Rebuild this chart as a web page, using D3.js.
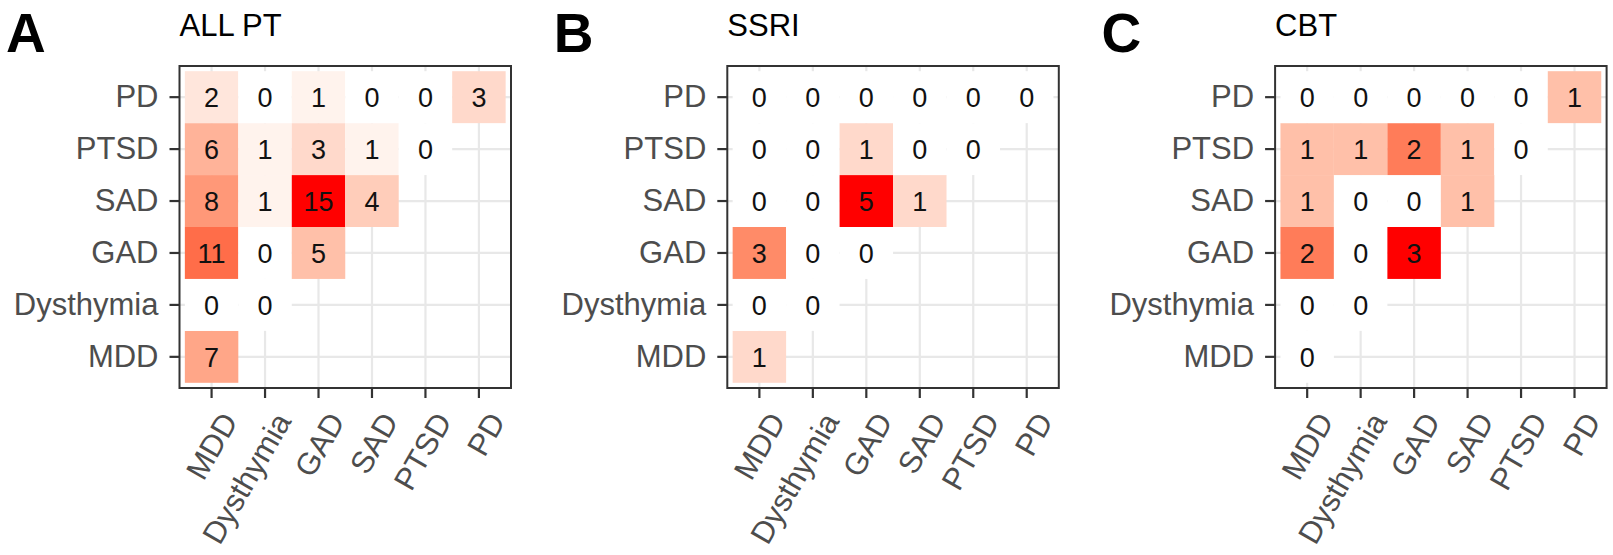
<!DOCTYPE html>
<html lang="en">
<head>
    <meta charset="utf-8">
    <script src="https://d3js.org/d3.v7.min.js"></script>
    <title>Comorbidity heatmaps</title>
    <style>
        body {
            margin: 0;
            padding: 0;
            background: #fff;
            font-family: "Liberation Sans", Arial, sans-serif;
        }
    </style>
</head>
<body>
    <svg id="chart" width="1613" height="555"></svg>
    <script>
        // Categories (same order on both axes, MDD at bottom / left)
        var categories = ["MDD", "Dysthymia", "GAD", "SAD", "PTSD", "PD"];

        // Counts, one row per y category (MDD first), columns MDD.. up to the diagonal
        var allPT = [[7], [0, 0], [11, 0, 5], [8, 1, 15, 4], [6, 1, 3, 1, 0], [2, 0, 1, 0, 0, 3]];
        var ssri = [[1], [0, 0], [3, 0, 0], [0, 0, 5, 1], [0, 0, 1, 0, 0], [0, 0, 0, 0, 0, 0]];
        var cbt = [[0], [0, 0], [2, 0, 3], [1, 0, 0, 1], [1, 1, 2, 1, 0], [0, 0, 0, 0, 0, 1]];

        var titles = ["ALL PT", "SSRI", "CBT"];
        var tags = ["A", "B", "C"];
        var panels = [allPT, ssri, cbt];

        var svg = d3.select("#chart");

        var panelW = 331.5,
            panelH = 322,
            plotTop = 66,
            step = 547.8,
            firstLeft = 179.5;

        panels.forEach(function (matrix, p) {
            var left = firstLeft + p * step;

            // flatten into cells
            var cells = [];
            matrix.forEach(function (row, i) {
                row.forEach(function (v, j) {
                    cells.push({ y: categories[i], x: categories[j], value: v });
                });
            });

            var x = d3.scaleBand()
                .domain(categories)
                .range([left, left + panelW])
                .paddingInner(0)
                .paddingOuter(0.1);

            var y = d3.scaleBand()
                .domain(categories.slice().reverse())
                .range([plotTop, plotTop + panelH])
                .paddingInner(0)
                .paddingOuter(0.1);

            var maxV = d3.max(cells, function (d) { return d.value; });
            var color = d3.scaleLinear()
                .domain([0, maxV])
                .range(["white", "red"])
                .interpolate(d3.interpolateLab);

            var g = svg.append("g");

            // panel background
            g.append("rect")
                .attr("x", left).attr("y", plotTop)
                .attr("width", panelW).attr("height", panelH)
                .attr("fill", "white");

            // grid
            g.selectAll(".vgrid")
                .data(categories)
                .enter().append("line")
                .attr("x1", function (d) { return x(d) + x.bandwidth() / 2; })
                .attr("x2", function (d) { return x(d) + x.bandwidth() / 2; })
                .attr("y1", plotTop).attr("y2", plotTop + panelH)
                .attr("stroke", "#e8e8e8")
                .attr("stroke-width", 2.2);

            g.selectAll(".hgrid")
                .data(categories)
                .enter().append("line")
                .attr("y1", function (d) { return y(d) + y.bandwidth() / 2; })
                .attr("y2", function (d) { return y(d) + y.bandwidth() / 2; })
                .attr("x1", left).attr("x2", left + panelW)
                .attr("stroke", "#e8e8e8")
                .attr("stroke-width", 2.2);

            // tiles
            g.selectAll(".tile")
                .data(cells)
                .enter().append("rect")
                .attr("x", function (d) { return x(d.x); })
                .attr("y", function (d) { return y(d.y); })
                .attr("width", x.bandwidth())
                .attr("height", y.bandwidth())
                .attr("fill", function (d) { return color(d.value); });

            // labels
            g.selectAll(".num")
                .data(cells)
                .enter().append("text")
                .attr("x", function (d) { return x(d.x) + x.bandwidth() / 2; })
                .attr("y", function (d) { return y(d.y) + y.bandwidth() / 2; })
                .attr("dy", "0.36em")
                .attr("text-anchor", "middle")
                .style("font-size", "27px")
                .attr("fill", "#111")
                .text(function (d) { return d.value; });

            // border
            g.append("rect")
                .attr("x", left).attr("y", plotTop)
                .attr("width", panelW).attr("height", panelH)
                .attr("fill", "none")
                .attr("stroke", "#333")
                .attr("stroke-width", 2);

            // y axis
            var yAxis = g.append("g")
                .attr("transform", "translate(" + left + ",0)")
                .call(d3.axisLeft(y).tickSize(10).tickPadding(11));
            yAxis.select(".domain").remove();
            yAxis.selectAll(".tick line").attr("stroke", "#333").attr("stroke-width", 2.2);
            yAxis.selectAll(".tick text")
                .attr("fill", "#4d4d4d")
                .style("font-size", "31px")
                .style("font-family", "Liberation Sans, Arial, sans-serif");

            // x axis
            var xAxis = g.append("g")
                .attr("transform", "translate(0," + (plotTop + panelH) + ")")
                .call(d3.axisBottom(x).tickSize(10).tickPadding(0));
            xAxis.select(".domain").remove();
            xAxis.selectAll(".tick line").attr("stroke", "#333").attr("stroke-width", 2.2);
            xAxis.selectAll(".tick text")
                .attr("fill", "#4d4d4d")
                .style("font-size", "31px")
                .style("font-family", "Liberation Sans, Arial, sans-serif")
                .attr("text-anchor", "end")
                .attr("x", 0)
                .attr("y", 0)
                .attr("dy", "0.9em")
                .attr("transform", "translate(3,19) rotate(-60)");

            // title
            g.append("text")
                .attr("x", left)
                .attr("y", 36)
                .style("font-size", "31px")
                .attr("fill", "#000")
                .text(titles[p]);

            // panel tag
            g.append("text")
                .attr("x", 6 + p * step)
                .attr("y", 52)
                .style("font-size", "55px")
                .style("font-weight", "bold")
                .attr("fill", "#000")
                .text(tags[p]);
        });
    </script>
</body>
</html>
